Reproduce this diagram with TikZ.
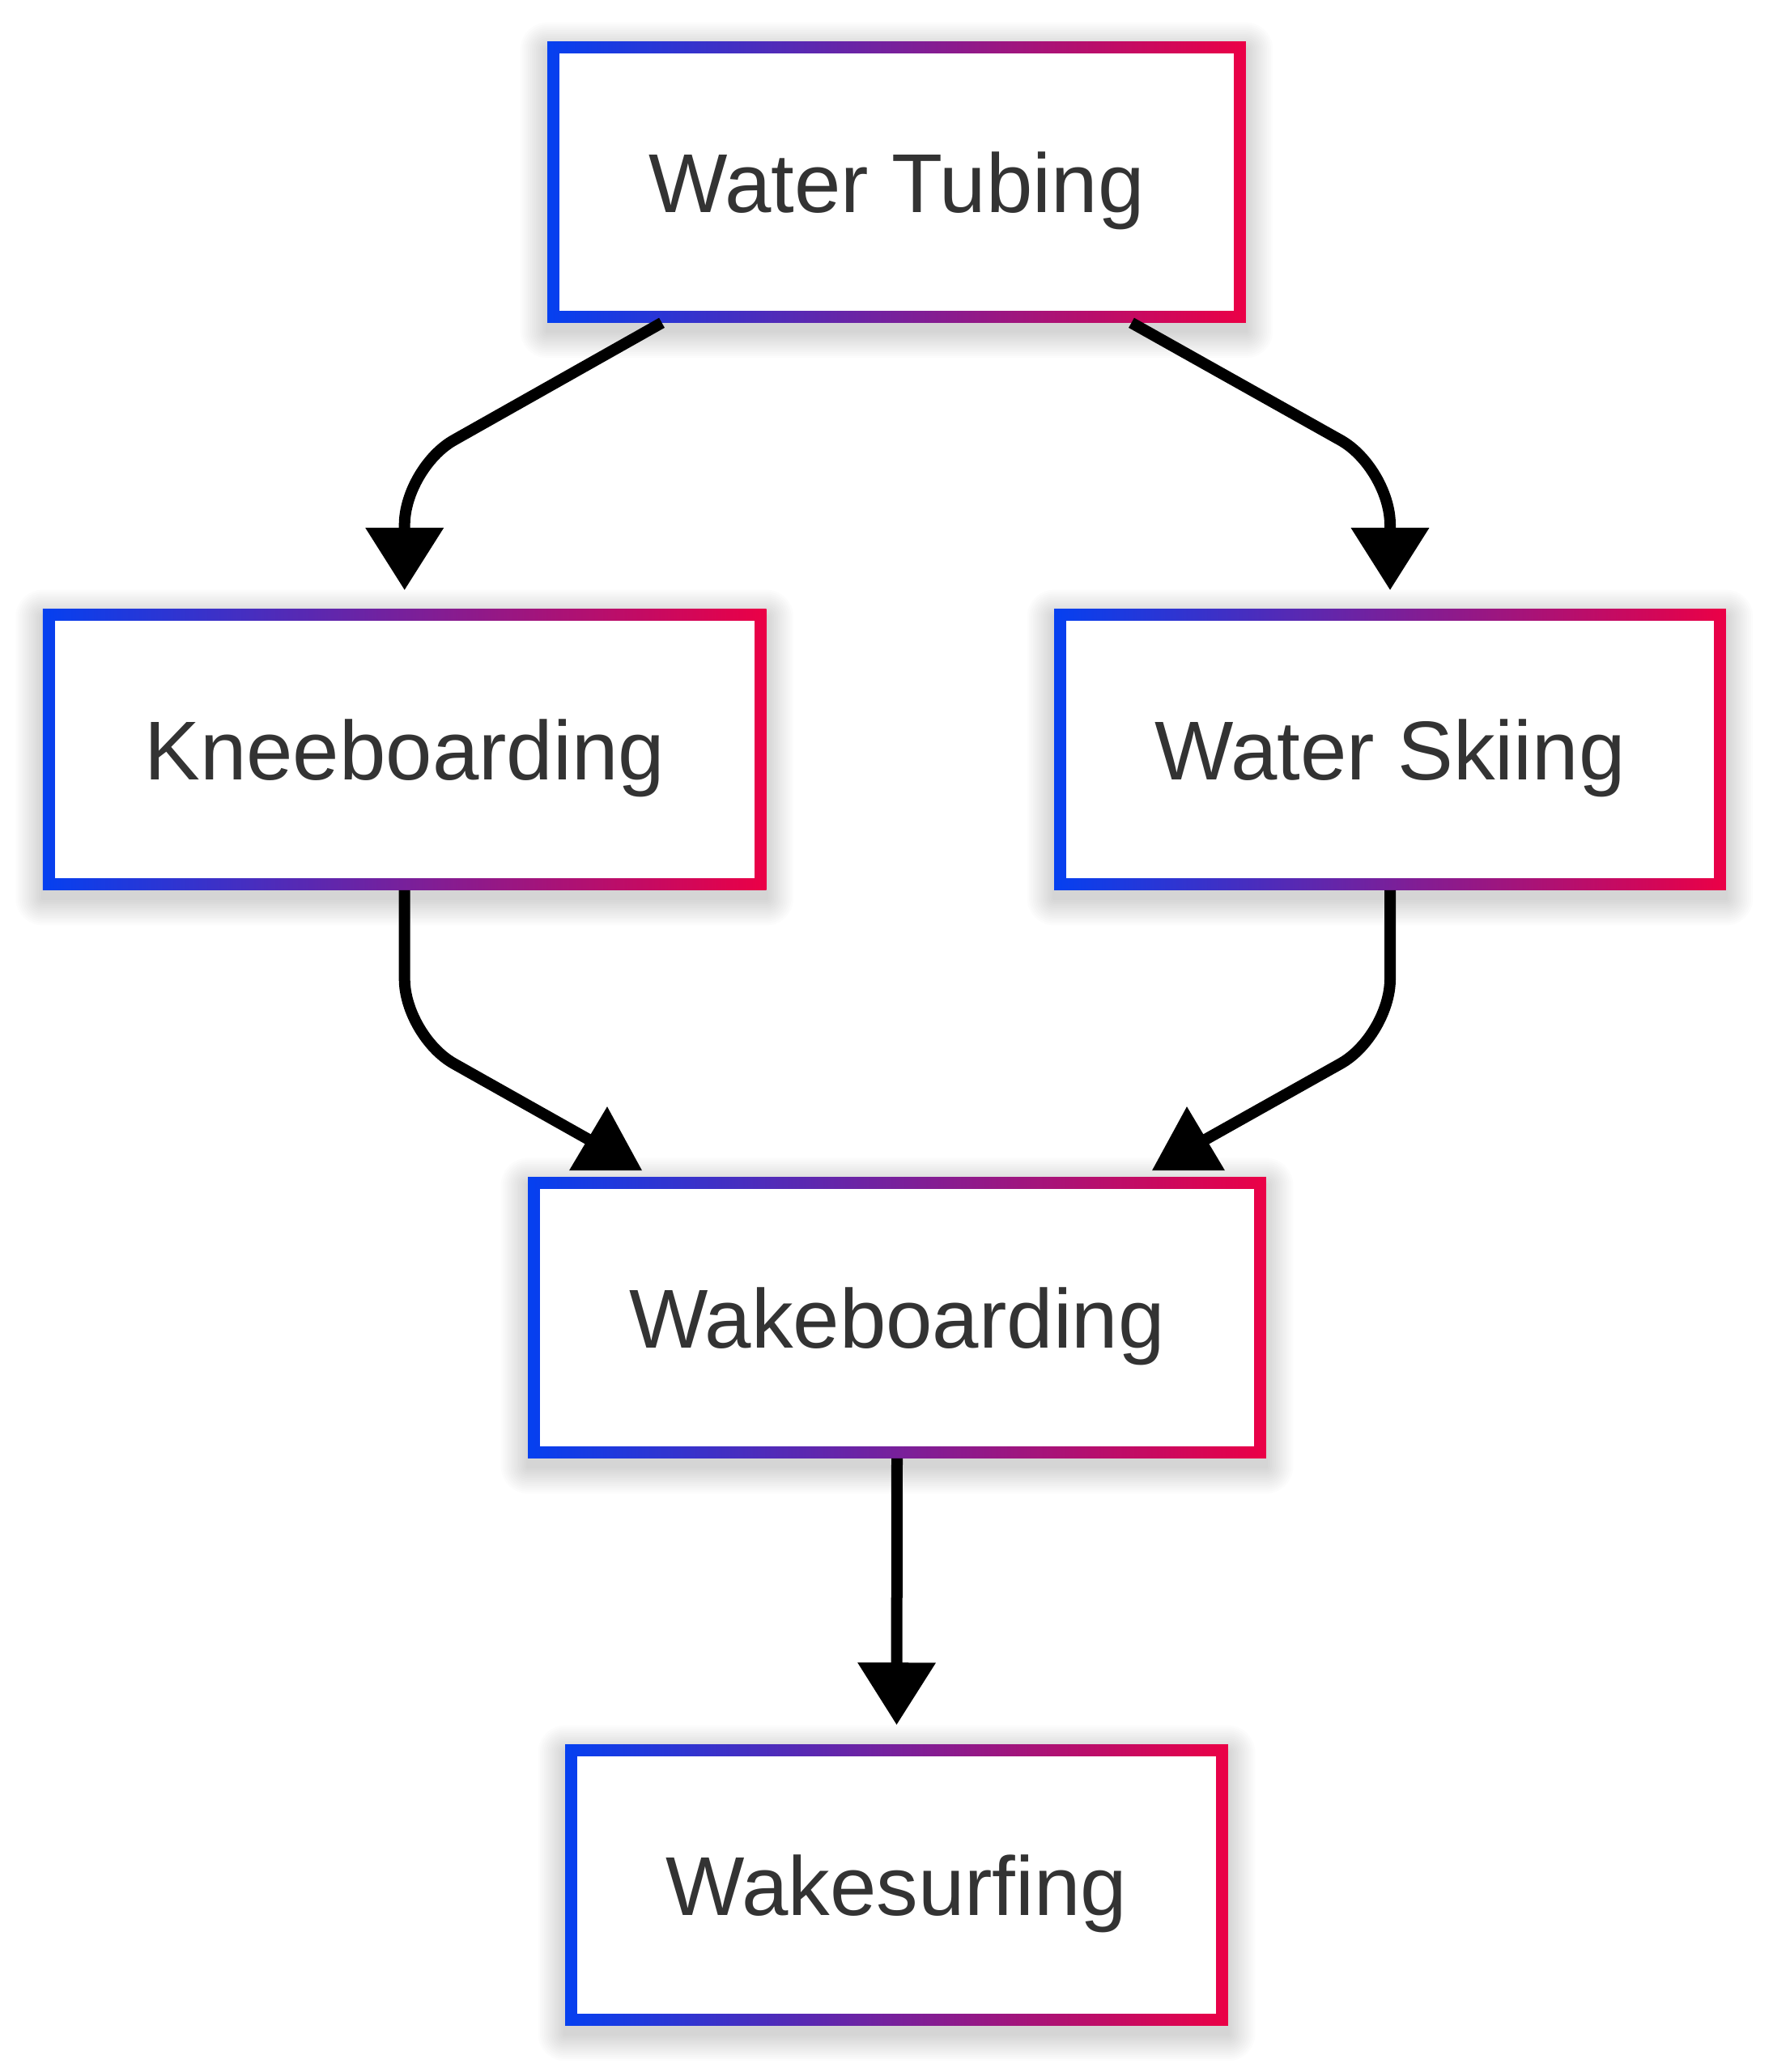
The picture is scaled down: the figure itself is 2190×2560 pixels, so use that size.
\documentclass[tikz,border=0pt]{standalone}
\usepackage{fontspec}
\setmainfont{Liberation Sans}
\usetikzlibrary{arrows.meta,calc,backgrounds}
\definecolor{gblue}{RGB}{5,64,240}
\definecolor{gred}{RGB}{235,0,70}
\definecolor{txt}{RGB}{51,51,51}
\newcommand\boxdeco[1]{%
  \foreach \i in {1,...,14}{%
    \fill[black, opacity=0.013, rounded corners=\i*0.6pt] ([shift={(-\i*2.4,-\i*2.4+10)}]#1.north west) rectangle ([shift={(\i*2.4,\i*2.4+10)}]#1.south east);
  }
  \shade[left color=gblue, right color=gred] (#1.north west) rectangle (#1.south east);
  \fill[white] ([shift={(15,15)}]#1.north west) rectangle ([shift={(-15,-15)}]#1.south east);
}
\begin{document}
\begin{tikzpicture}[x=0.25pt, y=-0.25pt,
  box/.style={rectangle, inner sep=0pt, minimum height=86.5pt, text height=18.5pt, text depth=0pt,
    font=\fontsize{25.8}{31}\selectfont, text=txt},
  edge/.style={line width=3.5pt, draw=black, -{Triangle[length=19.25pt,width=23.25pt]}, rounded corners=17.5pt},
  plainedge/.style={line width=3.5pt, draw=black, rounded corners=17.5pt},
  odd tip/.style={fill=black}]
\useasboundingbox (0,0) rectangle (2190,2560);
\node[box, minimum width=215.25pt] (wt) at (1107.5,225) {Water Tubing};
\node[box, minimum width=223pt] (kb) at (499.7,926) {Kneeboarding};
\node[box, minimum width=207pt] (ws) at (1717,926) {Water Skiing};
\node[box, minimum width=227.5pt] (wb) at (1108,1628) {Wakeboarding};
\node[box, minimum width=204.25pt] (wsurf) at (1107.5,2329) {Wakesurfing};
\begin{scope}[on background layer]
  \fill[white] (0,0) rectangle (2190,2560);
  \boxdeco{wt}
  \boxdeco{kb}
  \boxdeco{ws}
  \boxdeco{wb}
  \boxdeco{wsurf}
\end{scope}
% edges
\draw[edge] ($(wt.south)+(-290,0)$) -- ($(kb.north)+(0,-174)$) -- ($(kb.north)+(0,-23)$);
\draw[edge] ($(wt.south)+(290,0)$) -- ($(ws.north)+(0,-174)$) -- ($(ws.north)+(0,-23)$);
\draw[plainedge] (kb.south) -- ($(kb.south)+(0,180)$) -- ($(wb.north)+(-359,-34)$);
\fill[odd tip] ($(wb.north)+(-405,-8)$) -- ($(wb.north)+(-315,-8)$) -- ($(wb.north)+(-358,-87)$) -- cycle;
\draw[plainedge] (ws.south) -- ($(ws.south)+(0,180)$) -- ($(wb.north)+(359,-34)$);
\fill[odd tip] ($(wb.north)+(405,-8)$) -- ($(wb.north)+(315,-8)$) -- ($(wb.north)+(358,-87)$) -- cycle;
\draw[edge] (wb.south) -- ($(wsurf.north)+(0,-24)$);
\end{tikzpicture}
\end{document}
